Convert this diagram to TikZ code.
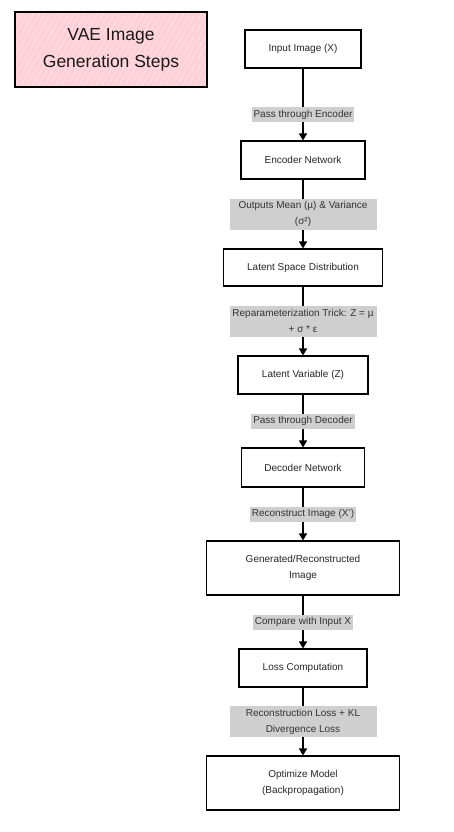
\documentclass[tikz,border=0pt]{standalone}
\usepackage{fontspec}
\setmainfont{Liberation Sans}
\usetikzlibrary{arrows.meta,patterns.meta}
\definecolor{titlepink}{HTML}{FFD0D8}
\definecolor{hatchpink}{HTML}{FFE6EA}
\definecolor{lblgray}{HTML}{CFCFCF}
\begin{document}
\begin{tikzpicture}[x=1pt,y=-1pt,
  stepbox/.style={draw,line width=1.1pt,fill=white,align=center,inner sep=0pt,
    text=black!85,font=\fontsize{10}{16}\selectfont},
  lbl/.style={fill=lblgray,inner xsep=2pt,inner ysep=0pt,minimum height=15pt,
    align=center,text=black!80,font=\fontsize{10}{16}\selectfont},
  flow/.style={line width=1.6pt,-{Triangle[length=7pt,width=8pt]}}]
  \useasboundingbox (0,0) rectangle (454,832);
  \node[draw,line width=1.1pt,preaction={fill=titlepink},
    preaction={pattern={Lines[angle=60,distance=5pt,line width=0.6pt]},pattern color=hatchpink},
    minimum width=192pt,minimum height=75pt,
    align=center,text=black!90,font=\fontsize{17.5}{27}\selectfont] (title) at (111,49.5) {VAE Image\\Generation Steps};
  \node[stepbox,minimum width=116pt,minimum height=38pt] (inp) at (303,49) {Input Image (X)};
  \node[stepbox,minimum width=124pt,minimum height=38pt] (enc) at (303,160) {Encoder Network};
  \node[stepbox,minimum width=159pt,minimum height=37pt] (lsd) at (303,267.5) {Latent Space Distribution};
  \node[stepbox,minimum width=130pt,minimum height=38pt] (lv) at (303,375) {Latent Variable (Z)};
  \node[stepbox,minimum width=123pt,minimum height=39pt] (dec) at (303,467.5) {Decoder Network};
  \node[stepbox,minimum width=193pt,minimum height=54pt] (gen) at (303,568) {Generated/Reconstructed\\Image};
  \node[stepbox,minimum width=128pt,minimum height=38pt] (loss) at (303,668) {Loss Computation};
  \node[stepbox,minimum width=193pt,minimum height=54pt] (opt) at (303,783) {Optimize Model\\(Backpropagation)};
  \draw[flow] (inp) -- node[lbl,pos=0.64] {Pass through Encoder} (enc);
  \draw[flow] (enc) -- node[lbl,minimum width=147pt,minimum height=31pt] {Outputs Mean (µ) \& Variance\\(σ²)} (lsd);
  \draw[flow] (lsd) -- node[lbl,minimum width=147pt,minimum height=31pt] {Reparameterization Trick: Z = µ\\+ σ * ε} (lv);
  \draw[flow] (lv) -- node[lbl] {Pass through Decoder} (dec);
  \draw[flow] (dec) -- node[lbl] {Reconstruct Image (X')} (gen);
  \draw[flow] (gen) -- node[lbl] {Compare with Input X} (loss);
  \draw[flow] (loss) -- node[lbl,minimum width=147pt,minimum height=31pt] {Reconstruction Loss + KL\\Divergence Loss} (opt);
\end{tikzpicture}
\end{document}
